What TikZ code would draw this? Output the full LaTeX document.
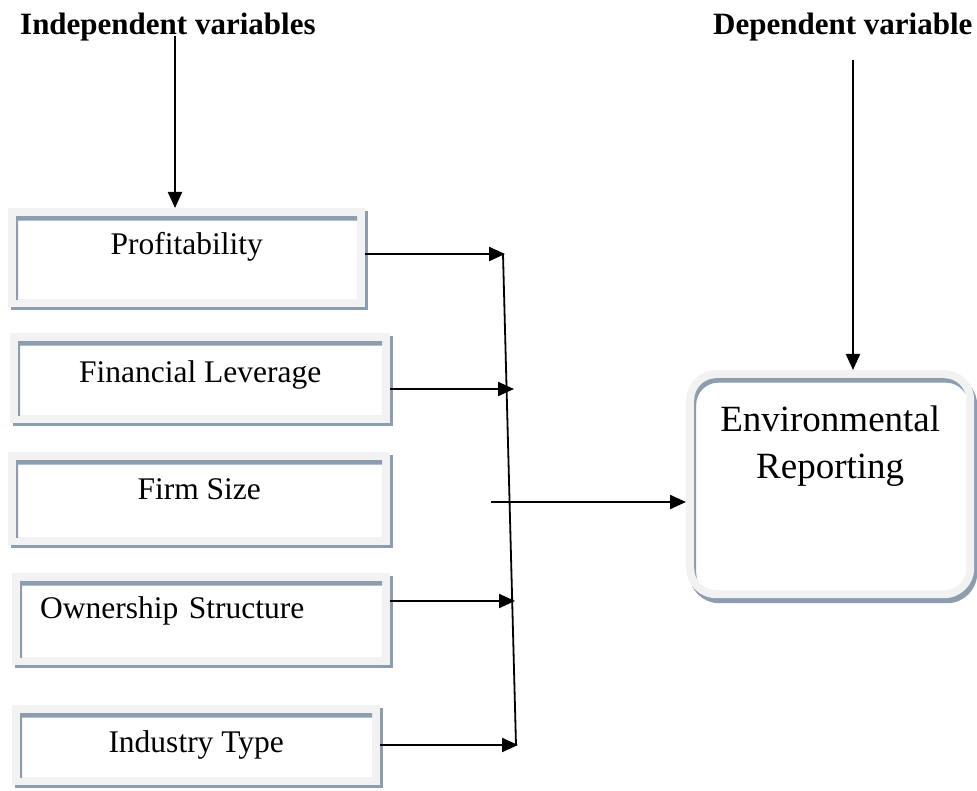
\documentclass[tikz,border=0pt]{standalone}
\usepackage{fontspec}
\setmainfont{Liberation Serif}
\usetikzlibrary{arrows.meta,shadows,calc}
\definecolor{framegray}{RGB}{242,242,242}
\definecolor{edgeblue}{RGB}{141,157,176}

\tikzset{
  % white face with a blue-grey inner edge along the top and left
  inset/.style={path picture={
      \coordinate (pa) at ($(path picture bounding box.north west)+(8pt,-8pt)$);
      \coordinate (pb) at ($(path picture bounding box.south east)+(-8pt,8pt)$);
      \fill[white, rounded corners=#1] (pa) rectangle (pb);
      \begin{scope}
        \clip[rounded corners=#1] (pa) rectangle (pb);
        \fill[edgeblue, even odd rule]
          ($(pa)+(-40pt,40pt)$) rectangle ($(pb)+(40pt,-40pt)$)
          [rounded corners=#1] ($(pa)+(2pt,-4.5pt)$) rectangle ($(pb)+(2pt,-4.5pt)$);
      \end{scope}}},
  varbox/.style={fill=framegray, draw=none, inner sep=0pt, anchor=north west,
    sharp corners, font=\fontsize{31.5}{38}\selectfont,
    drop shadow={shadow xshift=3pt, shadow yshift=-3pt, fill=edgeblue, opacity=1},
    inset=0pt},
  outcome/.style={fill=framegray, draw=none, inner sep=0pt, anchor=north west,
    rounded corners=30pt, font=\fontsize{37}{47}\selectfont,
    drop shadow={shadow xshift=3pt, shadow yshift=-5pt, fill=edgeblue, opacity=1},
    inset=22pt},
  heading/.style={font=\fontsize{31}{37}\selectfont\bfseries, anchor=base west, inner sep=0pt},
  arr/.style={line width=2.2pt, -{Triangle[length=16pt,width=14pt]}},
  bus/.style={line width=1.8pt}
}

\begin{document}
\begin{tikzpicture}[x=1pt,y=-1pt]
\useasboundingbox (0,0) rectangle (977,791);

% headings
\node[heading] (indep) at (20,35) {Independent variables};
\node[heading] (dep) at (713,35) {Dependent variable};

% independent variable boxes
\node[varbox, minimum width=357pt, text height=46pt, text depth=53pt] (prof) at (8,208) {Profitability};
\node[varbox, minimum width=380pt, text height=49pt, text depth=41pt] (lev) at (10,333) {Financial Leverage};
\node[varbox, minimum width=382pt, text height=47pt, text depth=46pt] (size) at (8,452) {Firm Size};
\node[varbox, minimum width=378pt, text width=322pt, align=left, text height=45pt, text depth=47pt] (own) at (12,573) {Ownership Structure};
\node[varbox, minimum width=368pt, text height=47pt, text depth=33pt] (ind) at (12,705) {Industry Type};

% dependent variable box
\node[outcome, minimum width=288pt, text height=61pt, text depth=167pt] (er) at (686,370)
  {\begin{tabular}[t]{@{}c@{}}Environmental\\Reporting\end{tabular}};

% arrows from the headings
\coordinate (d0) at (175,36);
\draw[arr] (d0) -- (d0 |- prof.north);
\coordinate (e0) at (853,60);
\draw[arr] (e0) -- (e0 |- er.north);

% collecting line
\coordinate (bt) at (503,254);
\coordinate (bb) at (516,745);
\draw[bus] (bt) -- (bb);

\coordinate (j2) at (514,389);
\coordinate (j4) at (515,601);
\coordinate (j5) at (518,745);
\draw[arr] (prof.east |- bt) -- ([xshift=2pt]bt);
\draw[arr] (lev.east |- j2) -- (j2);
\draw[arr] (own.east |- j4) -- (j4);
\draw[arr] (ind.east |- j5) -- (j5);

% combined effect on the outcome
\coordinate (f0) at (491,502);
\draw[arr] (f0) -- (f0 -| er.west);
\end{tikzpicture}
\end{document}
